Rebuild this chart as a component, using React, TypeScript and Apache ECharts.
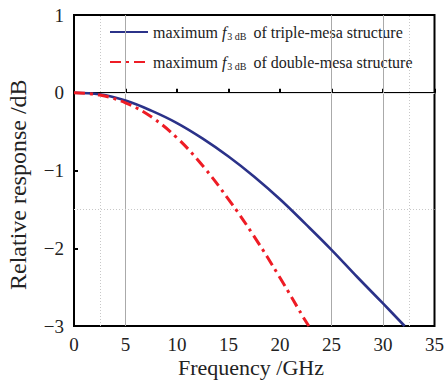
import React, { useEffect, useRef } from "react";
import * as echarts from "echarts";

const tripleFreq = [0, 2.5, 5, 7.5, 10, 12.5, 15, 17.5, 20, 22.5, 25, 27.5, 30, 32.1];
const tripleResp = [0, -0.02, -0.1, -0.23, -0.39, -0.59, -0.82, -1.08, -1.37, -1.69, -2.02, -2.37, -2.71, -3.0];
const doubleFreq = [0, 2.5, 5, 7.5, 10, 12.5, 15, 17.5, 20, 22.5, 22.8];
const doubleResp = [0, -0.03, -0.13, -0.31, -0.58, -0.94, -1.37, -1.85, -2.38, -2.94, -3.0];
const xTicks = [0, 5, 10, 15, 20, 25, 30, 35];
const yTicks = [-3, -2, -1, 0, 1];
const gridSolidX = [5, 25, 30];
const gridDottedX = [2.5, 32.5];
const gridDottedY = [-1.5];
const gridLightY = [0];
const seriesNames = ["maximum f3dB of triple-mesa structure", "maximum f3dB of double-mesa structure"];
const legendLabels: Record<string, string> = {
  [seriesNames[0]]: "{n|maximum }{i|f}{s|3 dB}{n| of triple-mesa structure}",
  [seriesNames[1]]: "{n|maximum }{i|f}{s|3 dB}{n| of double-mesa structure}",
};

const SERIF = "Liberation Serif";

export default function App() {
  const ref = useRef<HTMLDivElement>(null);
  useEffect(() => {
    if (!ref.current) return;
    const chart = echarts.init(ref.current, null, { renderer: "svg" });
    const zip = (xs: number[], ys: number[]) => xs.map((x, i) => [x, ys[i]]);
    chart.setOption({
      animation: false,
      backgroundColor: "#fff",
      textStyle: { fontFamily: SERIF },
      grid: {
        left: 74,
        right: 10,
        top: 15,
        bottom: 56,
        show: true,
        borderColor: "#000",
        borderWidth: 2,
      },
      xAxis: {
        type: "value",
        min: xTicks[0],
        max: xTicks[xTicks.length - 1],
        interval: 5,
        axisLine: { lineStyle: { color: "#000", width: 2 } },
        axisTick: { inside: true, length: 4, lineStyle: { color: "#000", width: 2 } },
        axisLabel: { color: "#222", fontSize: 19, fontFamily: SERIF, margin: 9 },
        splitLine: { show: false },
      },
      yAxis: {
        type: "value",
        min: yTicks[0],
        max: yTicks[yTicks.length - 1],
        interval: 1,
        axisLine: { lineStyle: { color: "#000", width: 2 } },
        axisTick: { inside: true, length: 4, lineStyle: { color: "#000", width: 2 } },
        axisLabel: {
          color: "#222",
          fontSize: 19,
          fontFamily: SERIF,
          margin: 10,
          formatter: (v: number) => String(v).replace("-", "\u2212"),
        },
        splitLine: { show: false },
      },
      legend: {
        data: seriesNames,
        orient: "vertical",
        left: 104,
        top: 19,
        itemWidth: 38,
        itemHeight: 14,
        itemGap: 13,
        itemStyle: { opacity: 0 },
        formatter: (name: string) => legendLabels[name],
        textStyle: {
          color: "#222",
          fontFamily: SERIF,
          fontSize: 16,
          rich: {
            n: { fontSize: 16, fontFamily: SERIF, color: "#222", lineHeight: 18 },
            i: { fontSize: 16, fontFamily: SERIF, fontStyle: "italic", color: "#222", lineHeight: 18 },
            s: { fontSize: 10, fontFamily: SERIF, color: "#222", verticalAlign: "bottom", lineHeight: 10, padding: [0, 3, 0, 1] },
          },
        },
      },
      graphic: [
        {
          type: "text",
          left: 178,
          top: 356,
          style: { text: "Frequency /GHz", fontSize: 22, fontFamily: SERIF, fill: "#222" },
        },
        {
          type: "text",
          x: 6,
          y: 290,
          rotation: Math.PI / 2,
          style: { text: "Relative response /dB", fontSize: 24, fontFamily: SERIF, fill: "#222" },
        },
      ],
      series: [
        {
          type: "line",
          name: "grid",
          data: [],
          silent: true,
          markLine: {
            silent: true,
            symbol: "none",
            label: { show: false },
            lineStyle: { color: "#aaa", width: 1, type: "solid" },
            data: gridSolidX.map((x) => ({ xAxis: x })),
          },
        },
        {
          type: "line",
          name: "grid2",
          data: [],
          silent: true,
          markLine: {
            silent: true,
            symbol: "none",
            label: { show: false },
            lineStyle: { color: "#c8c8c8", width: 1, type: [1, 2] },
            data: [
              ...gridDottedX.map((x) => ({ xAxis: x })),
              ...gridDottedY.map((y) => ({ yAxis: y })),
            ],
          },
        },
        {
          type: "line",
          name: "grid3",
          data: [],
          silent: true,
          markLine: {
            silent: true,
            symbol: "none",
            label: { show: false },
            lineStyle: { color: "#e4e4e4", width: 1, type: "solid" },
            data: gridLightY.map((y) => ({ yAxis: y })),
          },
        },
        {
          type: "line",
          name: seriesNames[0],
          data: zip(tripleFreq, tripleResp),
          smooth: 0.4,
          symbol: "none",
          lineStyle: { color: "#2b3289", width: 2.6, type: "solid" },
          itemStyle: { color: "#2b3289" },
          z: 5,
        },
        {
          type: "line",
          name: seriesNames[1],
          data: zip(doubleFreq, doubleResp),
          smooth: 0.4,
          symbol: "none",
          lineStyle: { color: "#ee1c25", width: 3, type: [11, 5, 3, 5] },
          itemStyle: { color: "#ee1c25" },
          z: 6,
        },
      ],
    });
    return () => chart.dispose();
  }, []);
  return <div ref={ref} style={{ width: 447, height: 382, position: "absolute", left: 0, top: 0 }} />;
}
